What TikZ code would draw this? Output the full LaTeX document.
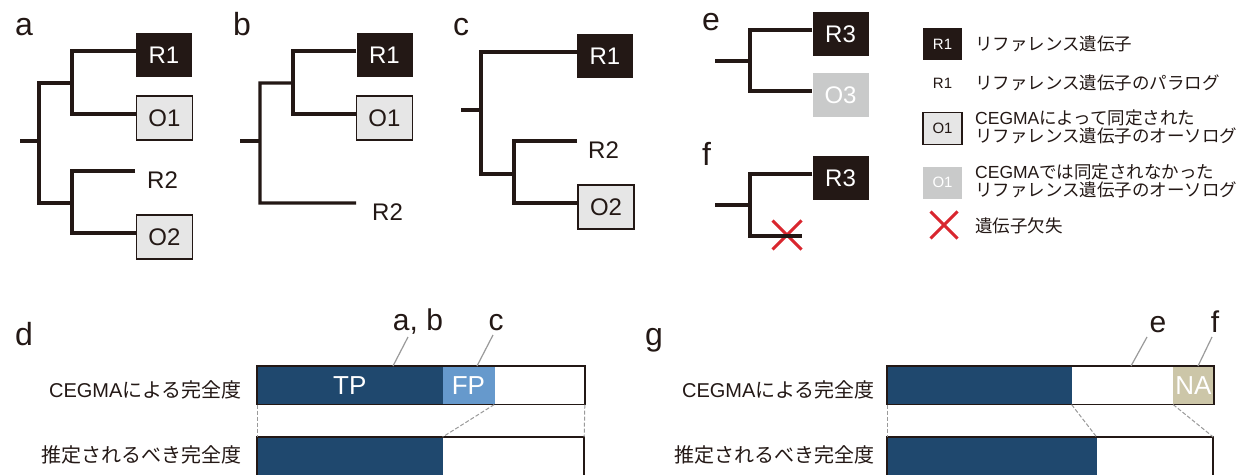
\documentclass[tikz,border=0pt]{standalone}
\usepackage{fontspec}
\setmainfont{Liberation Sans}
\newfontfamily\jpfont{Noto Sans CJK JP}
\newcommand\J[1]{{\jpfont #1}}
\newcommand\setpx[1]{\fontsize{#1}{#1}\selectfont}
\usetikzlibrary{calc,shapes.misc}

\definecolor{ink}{HTML}{231815}
\definecolor{tpblue}{HTML}{1F486E}
\definecolor{fpblue}{HTML}{6699CC}
\definecolor{natan}{HTML}{CCC6A8}
\definecolor{boxgray}{HTML}{E6E6E6}
\definecolor{missgray}{HTML}{C9CACA}
\definecolor{leadgray}{HTML}{9A9A9A}
\definecolor{lossred}{HTML}{D9262E}

\tikzset{
  branch/.style={draw=ink, line width=3.2},
  panel/.style={anchor=base west, inner sep=0, text=ink, font=\setpx{32}},
  toplab/.style={anchor=base, inner sep=0, text=ink, font=\setpx{30}},
  leafbox/.style={minimum width=56, minimum height=44, inner sep=0, font=\setpx{24}},
  refbox/.style={leafbox, fill=ink, text=white},
  orthobox/.style={leafbox, fill=boxgray, draw=ink, line width=1.2, text=ink},
  missbox/.style={leafbox, fill=missgray, text=white},
  paralog/.style={anchor=base west, inner sep=0, text=ink, font=\setpx{24}},
  lossx/.style={cross out, draw=lossred, line width=3, minimum size=24, inner sep=0},
  legsmall/.style={minimum width=39, minimum height=32, font=\setpx{15}},
  legtext/.style={anchor=west, inner sep=0, text=ink, font=\setpx{17.5}},
  rowlabel/.style={anchor=east, inner sep=0, text=ink, font=\setpx{20}},
  seg/.style={anchor=north west, minimum height=38, inner sep=0, line width=0.6,
              text=white, font=\setpx{26}},
  segb/.style={anchor=north west, minimum height=40, inner sep=0, line width=0.6},
  barframe/.style={draw=ink, line width=1.5},
  guide/.style={draw=leadgray, line width=1, dash pattern=on 4pt off 2pt},
  leader/.style={draw=leadgray, line width=1.2},
}

\begin{document}
\begin{tikzpicture}[x=1pt, y=-1pt]
\clip (0,0) rectangle (1249,474);
\fill[white] (0,0) rectangle (1249,474);

% ---------- tree a ----------
\node[panel] at (15,35) {a};
\node[refbox]   (aR1) at (164,55)  {R1};
\node[orthobox] (aO1) at (164.5,118) {O1};
\node[paralog]  (aR2) at (147,188) {R2};
\node[orthobox] (aO2) at (164.5,237) {O2};
\coordinate (a0) at (20,141);
\coordinate (a1) at (39,141);
\coordinate (at) at (39,83);
\coordinate (ab) at (39,203);
\coordinate (au) at (72,83);
\coordinate (al) at (72,203);
\draw[branch] (a0) -- (a1);
\draw[branch] (au) -- (at) -- (ab) -- (al);
\draw[branch] ($(aR1.west)+(0,-4)$) -| (au) |- ($(aO1.west)+(0,-4)$);
\draw[branch] ($(aR2.north west)+(-12,0)$) -| (al) |- ($(aO2.west)+(0,-4)$);

% ---------- tree b ----------
\node[panel] at (233,35) {b};
\node[refbox]   (bR1) at (384.5,55)  {R1};
\node[orthobox] (bO1) at (384.5,118) {O1};
\node[paralog]  (bR2) at (372,220) {R2};
\coordinate (b0) at (240,141);
\coordinate (b1) at (260,141);
\coordinate (bt) at (260,83);
\coordinate (bb) at (260,203);
\coordinate (bu) at (293,83);
\draw[branch] (b0) -- (b1);
\draw[branch] (bu) -- (bt) -- (bb) -- ($(bR2.north west)+(-16,0)$);
\draw[branch] ($(bR1.west)+(0,-4)$) -| (bu) |- ($(bO1.west)+(0,-4)$);

% ---------- tree c ----------
\node[panel] at (453,35) {c};
\node[refbox]   (cR1) at (605,56)  {R1};
\node[paralog]  (cR2) at (588,158) {R2};
\node[orthobox] (cO2) at (606,207) {O2};
\coordinate (c0) at (461,110);
\coordinate (c1) at (481,110);
\coordinate (cb) at (481,174);
\coordinate (cl) at (514,174);
\draw[branch] (c0) -- (c1);
\draw[branch] ($(cR1.west)+(0,-4)$) -| (cb) -- (cl);
\draw[branch] ($(cR2.north west)+(-11,0)$) -| (cl) |- ($(cO2.west)+(0,-4)$);

% ---------- tree e ----------
\node[panel] at (702,30) {e};
\node[refbox]  (eR3) at (840.5,34) {R3};
\node[missbox] (eO3) at (840.5,95) {O3};
\coordinate (e0) at (715,61);
\coordinate (e1) at (750,61);
\draw[branch] (e0) -- (e1);
\draw[branch] ($(eR3.west)+(0,-4)$) -| (e1) |- ($(eO3.west)+(0,-4)$);

% ---------- tree f ----------
\node[panel] at (702,165) {f};
\node[refbox] (fR3) at (840.5,178) {R3};
\node[lossx, minimum size=26] (fX) at (787,235) {};
\coordinate (f0) at (715,205);
\coordinate (f1) at (750,205);
\draw[branch] (f0) -- (f1);
\draw[branch] ($(fR3.west)+(0,-4)$) -| (f1) |- ($(fX.east)+(0,1)$);

% ---------- legend ----------
\node[refbox, legsmall] (lR1) at (942.5,44) {R1};
\node[legtext] at (975,44) {\J{リファレンス遺伝子}};
\node[paralog, anchor=center, font=\setpx{15}] (lR1p) at (942.5,83) {R1};
\node[legtext] at (975,82.5) {\J{リファレンス遺伝子のパラログ}};
\node[orthobox, legsmall] (lO1) at (942.5,128.5) {O1};
\node[legtext] at (975,117.5) {CEGMA\J{によって同定された}};
\node[legtext] at (975,135.5) {\J{リファレンス遺伝子のオーソログ}};
\node[missbox, legsmall] (lO1m) at (942.5,182.5) {O1};
\node[legtext] at (975,171.5) {CEGMA\J{では同定されなかった}};
\node[legtext] at (975,189.5) {\J{リファレンス遺伝子のオーソログ}};
\node[lossx] (lX) at (944,225) {};
\node[legtext] at (975,225.5) {\J{遺伝子欠失}};

% ---------- panel d ----------
\node[panel] at (15,345) {d};
\node[rowlabel] at (242,390) {CEGMA\J{による完全度}};
\node[rowlabel] at (242,455) {\J{推定されるべき完全度}};
\node[seg, fill=tpblue, draw=tpblue, minimum width=185] (dTP)   at (257,366) {TP};
\node[seg, fill=fpblue, draw=fpblue, minimum width=51]  (dFP)   at (dTP.north east) {FP};
\node[seg, fill=white,  minimum width=90]  (dRest) at (dFP.north east) {};
\draw[barframe] (dTP.north west) rectangle (dRest.south east);
\node[segb, fill=tpblue, draw=tpblue, minimum width=185] (dTPb)   at (257,437) {};
\node[segb, fill=white,  minimum width=141] (dRestb) at (dTPb.north east) {};
\draw[barframe] (dTPb.north west) rectangle (dRestb.south east);
\draw[guide] (dTP.south west) -- (dTPb.north west);
\draw[guide] (dRest.south east) -- (dRestb.north east);
\draw[guide] (dFP.south east) -- (dTPb.north east);
\node[toplab] (dab) at (418,330) {a, b};
\node[toplab] (dc)  at (496,330) {c};
\coordinate (dabEnd) at (393,366);
\coordinate (dcEnd)  at (477,366);
\draw[leader] ($(dab.base)+(-10,7)$) -- (dabEnd);
\draw[leader] ($(dc.base)+(-3,5)$) -- (dcEnd);

% ---------- panel g ----------
\node[panel] at (645,345) {g};
\node[rowlabel] at (875,390) {CEGMA\J{による完全度}};
\node[rowlabel] at (875,455) {\J{推定されるべき完全度}};
\node[seg, fill=tpblue, draw=tpblue, minimum width=184] (gTP)  at (887,366) {};
\node[seg, fill=white,  minimum width=101] (gGap) at (gTP.north east) {};
\node[seg, fill=natan, draw=natan, minimum width=40]  (gNA)  at (gGap.north east) {NA};
\draw[barframe] (gTP.north west) rectangle (gNA.south east);
\node[segb, fill=tpblue, draw=tpblue, minimum width=209] (gTPb)   at (887,437) {};
\node[segb, fill=white,  minimum width=116] (gRestb) at (gTPb.north east) {};
\draw[barframe] (gTPb.north west) rectangle (gRestb.south east);
\draw[guide] (gTP.south west) -- (gTPb.north west);
\draw[guide] (gTP.south east) -- (gTPb.north east);
\draw[guide] (gNA.south west) -- (gRestb.north east);
\node[toplab] (ge) at (1158,332) {e};
\node[toplab] (gf) at (1215,332) {f};
\coordinate (geEnd) at (1131,366);
\coordinate (gfEnd) at (1198,366);
\draw[leader] ($(ge.base)+(-11,5)$) -- (geEnd);
\draw[leader] ($(gf.base)+(-3,5)$) -- (gfEnd);
\end{tikzpicture}
\end{document}
